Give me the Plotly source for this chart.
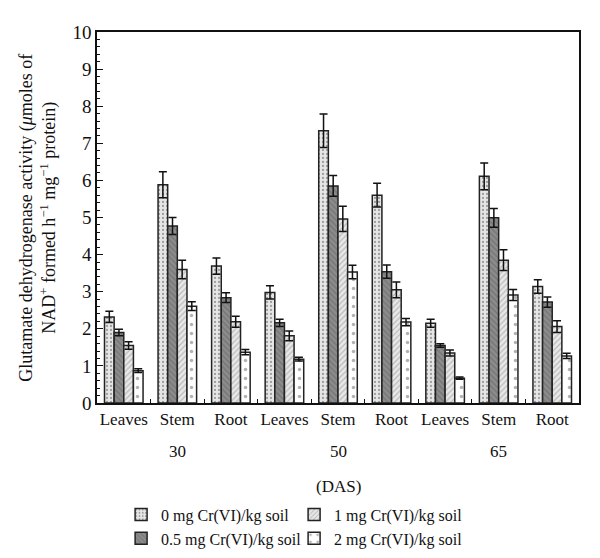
import plotly.graph_objects as go

parts = ["Leaves", "Stem", "Root"]
das = ["30", "50", "65"]
categories = [f"{p}{i}" for i in range(3) for p in parts]
tick_labels = parts * 3

series_names = ["0 mg Cr(VI)/kg soil", "0.5 mg Cr(VI)/kg soil",
                "1 mg Cr(VI)/kg soil", "2 mg Cr(VI)/kg soil"]

v0 = [2.32, 5.88, 3.69, 2.98, 7.34, 5.60, 2.15, 6.11, 3.14]
v05 = [1.90, 4.77, 2.84, 2.16, 5.85, 3.54, 1.55, 4.99, 2.72]
v1 = [1.55, 3.60, 2.19, 1.81, 4.96, 3.05, 1.35, 3.85, 2.06]
v2 = [0.87, 2.61, 1.37, 1.18, 3.53, 2.18, 0.67, 2.91, 1.27]

e0 = [0.15, 0.35, 0.22, 0.18, 0.45, 0.32, 0.11, 0.36, 0.18]
e05 = [0.09, 0.23, 0.13, 0.10, 0.28, 0.18, 0.05, 0.25, 0.14]
e1 = [0.10, 0.25, 0.15, 0.13, 0.34, 0.21, 0.08, 0.28, 0.16]
e2 = [0.05, 0.12, 0.07, 0.05, 0.18, 0.10, 0.03, 0.15, 0.07]

values = [v0, v05, v1, v2]
errors = [e0, e05, e1, e2]
ranks = [1, 3, 2, 4]
patterns = [
    dict(shape=".", bgcolor="#e6e6e6", fgcolor="#555555", size=4, solidity=0.25),
    dict(shape="\\", bgcolor="#8c8c8c", fgcolor="#5a5a5a", size=4, solidity=0.3),
    dict(shape="/", bgcolor="#e8e8e8", fgcolor="#8a8a8a", size=4, solidity=0.3),
    dict(shape=".", bgcolor="#ffffff", fgcolor="#666666", size=9, solidity=0.12),
]

fig = go.Figure()
for name, vals, errs, rk, pat in zip(series_names, values, errors, ranks, patterns):
    fig.add_trace(go.Bar(
        x=categories, y=vals, name=name, legendrank=rk,
        marker=dict(color=pat["bgcolor"], pattern=pat,
                    line=dict(color="#222222", width=1.5)),
        error_y=dict(type="data", array=errs, color="#111111",
                     thickness=1.5, width=4),
    ))

font_family = "Liberation Serif, DejaVu Serif, serif"
txt = dict(family=font_family, size=17, color="#111")

y_title = ("Glutamate dehydrogenase activity (<i>μ</i>moles of<br>"
           "NAD<sup>+</sup> formed h<sup>−1</sup> mg<sup>−1</sup> protein)")

annotations = []
for i, d in enumerate(das):
    annotations.append(dict(x=categories[3 * i + 1], y=-0.161, xref="x", yref="paper",
                            text=d, showarrow=False, font=txt))
annotations.append(dict(x=0.5, y=-0.256, xref="paper", yref="paper", text="(DAS)",
                        showarrow=False, font=txt))
annotations.append(dict(x=-0.124, y=0.5, xref="paper", yref="paper", text=y_title,
                        textangle=-90, showarrow=False, xanchor="center", yanchor="middle",
                        font=dict(family=font_family, size=18, color="#111")))

fig.update_layout(
    width=592, height=550,
    margin=dict(l=89, r=21, t=24, b=155, autoexpand=False),
    paper_bgcolor="white", plot_bgcolor="white",
    barmode="group", bargap=0.28, bargroupgap=0,
    font=txt,
    showlegend=True,
    legend=dict(orientation="h", x=0.05, y=-0.255, xanchor="left", yanchor="top",
                entrywidth=128, entrywidthmode="pixels",
                font=dict(family=font_family, size=16, color="#111"),
                tracegroupgap=0, itemwidth=30),
    annotations=annotations,
    xaxis=dict(
        tickmode="array", tickvals=categories, ticktext=tick_labels,
        tickangle=0, automargin=False,
        tickson="boundaries", ticks="inside", ticklen=4, tickcolor="#111",
        showline=True, linecolor="#111", linewidth=1.5, mirror=True,
        showgrid=False, tickfont=txt,
    ),
    yaxis=dict(
        range=[0, 10], dtick=1, ticks="inside", ticklen=6, tickcolor="#111",
        automargin=False,
        minor=dict(dtick=0.2, ticks="inside", ticklen=3, tickcolor="#111"),
        showline=True, linecolor="#111", linewidth=1.5, mirror=True,
        showgrid=False, zeroline=False,
        tickfont=dict(family=font_family, size=19, color="#111"),
    ),
)

fig.write_html("out.html")
